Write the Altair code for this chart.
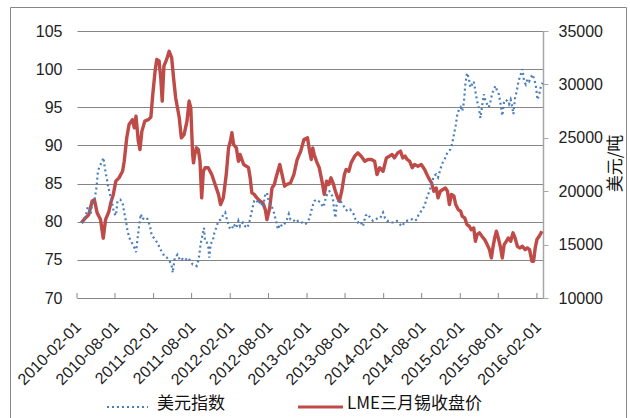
import altair as alt
import pandas as pd

# US dollar index (left axis)
usd_dates = [
    "2010-02-22", "2010-03-05", "2010-03-18", "2010-03-24", "2010-04-07", "2010-04-14", "2010-04-26",
    "2010-05-05", "2010-05-12", "2010-05-21", "2010-06-02", "2010-06-07", "2010-06-13", "2010-06-22",
    "2010-06-29", "2010-07-08", "2010-07-19", "2010-07-27", "2010-08-05", "2010-08-13", "2010-08-26",
    "2010-09-06", "2010-09-14", "2010-09-22", "2010-09-30", "2010-10-08", "2010-10-15", "2010-10-23",
    "2010-11-01", "2010-11-09", "2010-11-17", "2010-11-25", "2010-12-02", "2010-12-10", "2010-12-18",
    "2010-12-31", "2011-01-07", "2011-01-16", "2011-01-23", "2011-02-02", "2011-02-12", "2011-02-22",
    "2011-03-04", "2011-03-15", "2011-03-23", "2011-04-05", "2011-04-16", "2011-04-27", "2011-05-03",
    "2011-05-13", "2011-05-26", "2011-06-08", "2011-06-19", "2011-06-30", "2011-07-12", "2011-07-25",
    "2011-08-06", "2011-08-17", "2011-08-25", "2011-09-02", "2011-09-07", "2011-09-13", "2011-09-23",
    "2011-09-29", "2011-10-04", "2011-10-12", "2011-10-20", "2011-10-24", "2011-10-31", "2011-11-10",
    "2011-11-16", "2011-11-26", "2011-12-07", "2011-12-18", "2011-12-28", "2012-01-08", "2012-01-16",
    "2012-01-29", "2012-02-09", "2012-02-17", "2012-03-01", "2012-03-11", "2012-03-19", "2012-04-01",
    "2012-04-12", "2012-04-23", "2012-05-03", "2012-05-09", "2012-05-18", "2012-05-25", "2012-06-04",
    "2012-06-15", "2012-06-23", "2012-07-06", "2012-07-17", "2012-07-25", "2012-08-02", "2012-08-10",
    "2012-08-23", "2012-08-29", "2012-09-08", "2012-09-15", "2012-09-24", "2012-10-05", "2012-10-16",
    "2012-10-28", "2012-11-06", "2012-11-14", "2012-11-27", "2012-12-08", "2012-12-19", "2013-01-02",
    "2013-01-14", "2013-01-25", "2013-02-06", "2013-02-13", "2013-02-21", "2013-02-28", "2013-03-07",
    "2013-03-18", "2013-03-28", "2013-04-08", "2013-04-16", "2013-04-24", "2013-05-02", "2013-05-10",
    "2013-05-18", "2013-05-26", "2013-06-03", "2013-06-11", "2013-06-16", "2013-06-22", "2013-07-02",
    "2013-07-10", "2013-07-21", "2013-08-03", "2013-08-14", "2013-08-25", "2013-09-08", "2013-09-20",
    "2013-10-01", "2013-10-12", "2013-10-25", "2013-11-07", "2013-11-18", "2013-11-29", "2013-12-12",
    "2013-12-25", "2014-01-05", "2014-01-16", "2014-01-29", "2014-02-07", "2014-02-17", "2014-02-28",
    "2014-03-13", "2014-03-24", "2014-04-05", "2014-04-17", "2014-04-30", "2014-05-11", "2014-05-22",
    "2014-06-05", "2014-06-17", "2014-06-28", "2014-07-09", "2014-07-18", "2014-07-25", "2014-08-04",
    "2014-08-15", "2014-08-26", "2014-09-07", "2014-09-17", "2014-09-28", "2014-10-09", "2014-10-18",
    "2014-10-29", "2014-11-10", "2014-11-19", "2014-11-26", "2014-12-05", "2014-12-16", "2014-12-24",
    "2015-01-02", "2015-01-10", "2015-01-18", "2015-01-26", "2015-02-03", "2015-02-10", "2015-02-18",
    "2015-02-25", "2015-03-05", "2015-03-13", "2015-03-21", "2015-03-29", "2015-04-06", "2015-04-14",
    "2015-04-22", "2015-04-30", "2015-05-08", "2015-05-15", "2015-05-24", "2015-06-01", "2015-06-09",
    "2015-06-17", "2015-06-25", "2015-07-02", "2015-07-11", "2015-07-19", "2015-07-27", "2015-08-04",
    "2015-08-12", "2015-08-20", "2015-08-28", "2015-09-05", "2015-09-13", "2015-09-21", "2015-09-29",
    "2015-10-07", "2015-10-12", "2015-10-20", "2015-10-28", "2015-11-05", "2015-11-16", "2015-11-24",
    "2015-12-02", "2015-12-10", "2015-12-18", "2015-12-26", "2016-01-03", "2016-01-11", "2016-01-19",
    "2016-01-27", "2016-02-04", "2016-02-12", "2016-02-20", "2016-02-28",
]
usd_values = [
    79.9, 80.1, 81.2, 81.9, 81.0, 82.3, 82.9,
    84.5, 86.7, 87.3, 88.0, 88.4, 87.1, 85.8,
    84.7, 83.6, 82.3, 81.2, 80.8, 82.7, 82.9,
    82.5, 81.2, 80.1, 78.8, 77.9, 77.5, 77.1,
    76.6, 76.0, 77.9, 79.7, 81.0, 80.3, 80.5,
    80.5, 80.1, 79.2, 78.2, 77.9, 77.5, 77.1,
    76.4, 76.0, 75.5, 75.3, 74.9, 74.4, 73.3,
    75.3, 75.7, 74.9, 75.1, 74.9, 75.3, 74.9,
    74.4, 74.4, 74.2, 74.9, 75.7, 77.1, 78.4,
    79.2, 77.5, 77.3, 76.6, 75.3, 77.1, 77.5,
    78.4, 79.2, 80.1, 80.3, 80.8, 81.2, 80.3,
    79.2, 79.0, 79.7, 79.2, 80.1, 79.4, 79.9,
    79.4, 79.2, 80.1, 80.8, 81.9, 82.7, 82.9,
    82.3, 82.7, 81.9, 83.6, 83.8, 82.7, 82.3,
    81.6, 81.0, 79.9, 79.0, 79.7, 79.4, 79.7,
    80.3, 81.0, 80.3, 80.3, 79.9, 80.1, 80.1,
    79.7, 79.7, 80.1, 80.5, 81.4, 82.1, 82.7,
    82.9, 82.7, 82.5, 81.9, 82.3, 83.2, 83.8,
    84.0, 83.8, 83.2, 81.4, 80.5, 82.3, 82.9,
    82.7, 82.3, 81.6, 81.4, 81.6, 81.2, 80.3,
    79.9, 80.1, 79.4, 80.8, 81.0, 80.5, 80.1,
    80.3, 80.5, 80.5, 81.2, 80.5, 80.1, 80.1,
    79.9, 79.9, 80.1, 79.7, 79.4, 79.9, 80.1,
    80.3, 80.3, 80.1, 80.3, 81.0, 81.2, 81.6,
    82.1, 83.2, 84.0, 84.9, 86.0, 86.2, 85.8,
    86.9, 87.8, 88.2, 88.8, 89.1, 89.5, 90.2,
    91.5, 92.6, 94.1, 94.7, 95.0, 94.5, 95.6,
    98.0, 99.5, 98.9, 97.6, 98.0, 98.4, 97.1,
    95.8, 95.0, 93.6, 95.0, 96.7, 95.8, 95.4,
    95.0, 95.8, 96.7, 97.4, 97.8, 97.1, 96.7,
    95.4, 93.9, 95.6, 96.0, 95.8, 95.4, 96.0,
    95.0, 94.1, 96.3, 97.1, 98.4, 99.3, 100.0,
    98.4, 98.0, 98.7, 98.4, 98.9, 99.3, 98.7,
    97.8, 96.0, 96.7, 97.8, 98.2,
]

# LME 3-month tin close, USD/t (right axis)
tin_dates = [
    "2010-02-22", "2010-03-13", "2010-03-29", "2010-04-14", "2010-04-25", "2010-05-08", "2010-05-24",
    "2010-06-06", "2010-06-17", "2010-07-03", "2010-07-14", "2010-07-24", "2010-08-05", "2010-08-20",
    "2010-09-06", "2010-09-14", "2010-09-26", "2010-10-07", "2010-10-23", "2010-11-01", "2010-11-09",
    "2010-11-20", "2010-11-28", "2010-12-07", "2010-12-21", "2011-01-07", "2011-01-19", "2011-01-28",
    "2011-02-08", "2011-02-16", "2011-02-27", "2011-03-07", "2011-03-14", "2011-03-22", "2011-04-04",
    "2011-04-16", "2011-04-28", "2011-05-07", "2011-05-17", "2011-06-03", "2011-06-13", "2011-06-26",
    "2011-07-10", "2011-07-20", "2011-07-28", "2011-08-06", "2011-08-10", "2011-08-16", "2011-08-24",
    "2011-09-02", "2011-09-10", "2011-09-18", "2011-09-26", "2011-10-04", "2011-10-19", "2011-11-05",
    "2011-11-21", "2011-12-07", "2011-12-17", "2011-12-30", "2012-01-13", "2012-01-24", "2012-02-02",
    "2012-02-09", "2012-02-17", "2012-03-01", "2012-03-11", "2012-03-19", "2012-04-05", "2012-04-28",
    "2012-05-06", "2012-05-14", "2012-05-25", "2012-06-07", "2012-06-23", "2012-07-06", "2012-07-17",
    "2012-07-25", "2012-08-07", "2012-08-18", "2012-08-29", "2012-09-08", "2012-09-24", "2012-10-05",
    "2012-10-17", "2012-10-28", "2012-11-14", "2012-11-30", "2012-12-16", "2013-01-02", "2013-01-17",
    "2013-02-03", "2013-02-13", "2013-02-21", "2013-02-28", "2013-03-07", "2013-03-18", "2013-03-31",
    "2013-04-13", "2013-04-24", "2013-05-05", "2013-05-15", "2013-05-26", "2013-06-07", "2013-06-16",
    "2013-06-27", "2013-07-05", "2013-07-16", "2013-07-29", "2013-08-06", "2013-08-19", "2013-08-30",
    "2013-09-16", "2013-10-01", "2013-10-17", "2013-11-03", "2013-11-18", "2013-12-04", "2013-12-20",
    "2013-12-31", "2014-01-13", "2014-01-29", "2014-02-14", "2014-02-28", "2014-03-13", "2014-03-24",
    "2014-04-09", "2014-04-22", "2014-05-03", "2014-05-14", "2014-05-24", "2014-06-05", "2014-06-17",
    "2014-06-28", "2014-07-14", "2014-07-30", "2014-08-15", "2014-08-26", "2014-09-07", "2014-09-17",
    "2014-09-28", "2014-10-09", "2014-10-18", "2014-10-29", "2014-11-10", "2014-11-22", "2014-12-02",
    "2014-12-11", "2014-12-21", "2015-01-02", "2015-01-10", "2015-01-22", "2015-02-03", "2015-02-10",
    "2015-02-22", "2015-03-05", "2015-03-16", "2015-03-25", "2015-04-06", "2015-04-14", "2015-04-22",
    "2015-05-03", "2015-05-15", "2015-05-28", "2015-06-09", "2015-06-20", "2015-06-29", "2015-07-06",
    "2015-07-15", "2015-07-23", "2015-08-01", "2015-08-12", "2015-08-20", "2015-08-29", "2015-09-08",
    "2015-09-18", "2015-09-29", "2015-10-10", "2015-10-20", "2015-10-31", "2015-11-11", "2015-11-24",
    "2015-12-07", "2015-12-17", "2015-12-28", "2016-01-08", "2016-01-16", "2016-01-24", "2016-02-01",
    "2016-02-12", "2016-02-25",
]
tin_values = [
    17030, 17500, 17800, 19060, 19200, 17970, 17340,
    15600, 17340, 18100, 19060, 19700, 20940, 21250,
    21870, 22800, 25000, 26250, 26700, 25940, 27030,
    24700, 23900, 25600, 26560, 26700, 26940, 29060,
    31250, 32340, 32200, 30600, 28440, 31700, 32340,
    33100, 32500, 30600, 28750, 26900, 25000, 25300,
    26560, 28440, 27800, 23440, 22650, 23440, 24060,
    23900, 22800, 19375, 21870, 22200, 22200, 21560,
    20630, 19700, 18750, 19375, 21560, 24060, 24700,
    25470, 24375, 24060, 22800, 23440, 22500, 22200,
    21250, 19840, 19700, 19375, 19060, 18900, 18280,
    17340, 18440, 20300, 20630, 21400, 22500, 21560,
    20470, 20630, 20780, 21560, 22970, 23750, 24840,
    25000, 23750, 22970, 24060, 23440, 22800, 22200,
    20940, 19700, 20940, 20630, 21250, 20630, 20000,
    19375, 19060, 20000, 21560, 22030, 21870, 22650,
    23280, 23590, 23280, 22800, 22970, 22970, 22800,
    21560, 22200, 21870, 23120, 23280, 23440, 23120,
    23590, 23750, 23120, 23280, 22970, 22800, 22200,
    22500, 22340, 22500, 22030, 21560, 21100, 20780,
    20000, 20300, 19375, 20000, 20160, 20300, 20000,
    18750, 19700, 19530, 18750, 18280, 18120, 17650,
    17500, 16870, 16720, 16400, 16560, 15310, 15940,
    16100, 15780, 15470, 15000, 14530, 13750, 14690,
    15625, 16250, 15625, 14690, 13750, 15000, 15310,
    15625, 15310, 16100, 15625, 14840, 14690, 14840,
    14530, 14690, 14530, 13440, 13440, 14690, 15470,
    15780, 16250,
]

series_names = ["美元指数", "LME三月锡收盘价"]
right_title = "美元/吨"

tick_dates = [
    "2010-02-01", "2010-08-01", "2011-02-01", "2011-08-01", "2012-02-01", "2012-08-01", "2013-02-01",
    "2013-08-01", "2014-02-01", "2014-08-01", "2015-02-01", "2015-08-01", "2016-02-01",
]
left_ticks = [70, 75, 80, 85, 90, 95, 100, 105]
right_ticks = [10000, 15000, 20000, 25000, 30000, 35000]

W, H = 466, 267
BLUE = "#4a7ebb"
RED = "#be4b48"
GRID = "#868686"
FONT = "Liberation Sans"
CJK = "Noto Sans CJK SC"


def utc_dt(s):
    y, m, d = (int(p) for p in s.split("-"))
    return alt.DateTime(year=y, month=m, date=d, utc=True)


usd = pd.DataFrame({"date": usd_dates, "value": usd_values})
tin = pd.DataFrame({"date": tin_dates, "value": tin_values})
ticks = pd.DataFrame({"date": tick_dates})
one = pd.DataFrame({"k": [0]})

x_scale = alt.Scale(type="utc", domain=[utc_dt("2010-02-01"), utc_dt("2016-03-01")])
x_axis = alt.Axis(
    values=[utc_dt(t) for t in tick_dates],
    labelExpr="utcFormat(datum.value, '%Y-%m-%d')",
    labelAngle=315,
    labelAlign="right",
    labelBaseline="middle",
    labelPadding=26,
    labelOffset=1,
    labelFont=FONT,
    labelFontSize=16,
    labelColor="#222222",
    labelOverlap=False,
    labelBound=False,
    labelFlush=False,
    ticks=False,
    tickSize=0,
    domain=True,
    domainColor=GRID,
    domainWidth=1,
    grid=False,
    title=None,
)

# outer frame of the chart area
frame = alt.Chart(one).mark_rect(
    fillOpacity=0, stroke=GRID, strokeWidth=1
).encode(
    x=alt.value(-66.5), x2=alt.value(549.5), y=alt.value(-23.5), y2=alt.value(395)
)

# tick marks pointing into the plot from the date axis
tick_marks = alt.Chart(ticks).mark_rule(color=GRID, strokeWidth=1).encode(
    x=alt.X("date:T", scale=x_scale, axis=x_axis),
    y=alt.value(H - 5),
    y2=alt.value(H),
)

tin_line = alt.Chart(tin).mark_line(
    color=RED, strokeWidth=3.4, strokeJoin="round"
).encode(
    x=alt.X("date:T", scale=x_scale, axis=x_axis),
    y=alt.Y(
        "value:Q",
        scale=alt.Scale(domain=[10000, 35000], nice=False, zero=False),
        axis=alt.Axis(
            orient="right",
            values=right_ticks,
            format="d",
            grid=False,
            domain=True,
            domainColor="#a6a6a6",
            domainWidth=1.5,
            ticks=True,
            tickSize=5,
            tickColor="#a6a6a6",
            labelPadding=10,
            labelFont=FONT,
            labelFontSize=16,
            labelColor="#222222",
            title=right_title,
            titleFont=CJK,
            titleFontSize=17,
            titleFontWeight="normal",
            titleColor="#111111",
            titleAngle=270,
            titleAlign="center",
            titleBaseline="middle",
            titleX=72,
            titleY=132,
        ),
    ),
)

usd_line = alt.Chart(usd).mark_line(
    color=BLUE, strokeWidth=2.2, strokeDash=[2, 3]
).encode(
    x=alt.X("date:T", scale=x_scale, axis=x_axis),
    y=alt.Y(
        "value:Q",
        scale=alt.Scale(domain=[70, 105], nice=False, zero=False),
        axis=alt.Axis(
            orient="left",
            values=left_ticks,
            grid=True,
            gridColor=GRID,
            gridWidth=1,
            domain=False,
            ticks=False,
            tickSize=0,
            labelPadding=15,
            labelFont=FONT,
            labelFontSize=16,
            labelColor="#222222",
            title=None,
        ),
    ),
)

# legend below the chart
leg_blue = alt.Chart(one).mark_rule(color=BLUE, strokeWidth=2.2, strokeDash=[2, 3]).encode(
    x=alt.value(30), x2=alt.value(71), y=alt.value(376)
)
leg_red = alt.Chart(one).mark_rule(color=RED, strokeWidth=3).encode(
    x=alt.value(221), x2=alt.value(266), y=alt.value(376)
)
leg_text_blue = alt.Chart(pd.DataFrame({"name": [series_names[0]]})).mark_text(
    align="left", baseline="middle", font=CJK, fontSize=17, color="#111111"
).encode(text="name:N", x=alt.value(80), y=alt.value(373))
leg_text_red = alt.Chart(pd.DataFrame({"name": [series_names[1]]})).mark_text(
    align="left", baseline="middle", font=CJK, fontSize=17, color="#111111"
).encode(text="name:N", x=alt.value(270), y=alt.value(373))

chart = alt.layer(
    frame, tick_marks, tin_line, usd_line, leg_blue, leg_red, leg_text_blue, leg_text_red
).resolve_scale(
    y="independent"
).properties(
    width=W,
    height=H,
    autosize="none",
    padding={"left": 77, "top": 31, "right": 87, "bottom": 120},
    background="white",
).configure_view(stroke=None)

chart.save("out.html", embed_options={"renderer": "svg", "actions": False})
